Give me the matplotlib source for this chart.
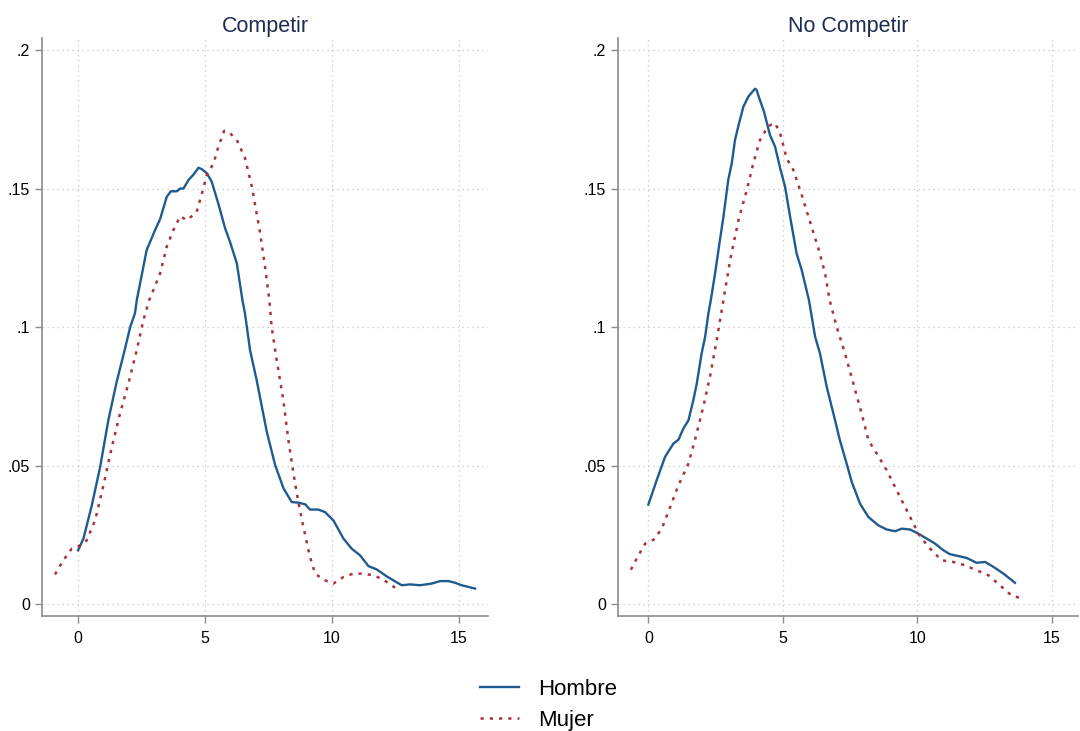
import matplotlib
matplotlib.use("Agg")
import matplotlib.pyplot as plt

plt.rcParams['font.family'] = ['Liberation Sans', 'DejaVu Sans']

# Competir - Hombre
comp_h_x = [0.0, 0.21, 0.54, 0.87, 1.19, 1.52, 1.85, 2.05, 2.24, 2.31, 2.70, 3.03, 3.23, 3.49,
            3.65, 3.88, 4.02, 4.15, 4.34, 4.54, 4.74, 4.87, 5.07, 5.26, 5.52, 5.79, 5.98, 6.25,
            6.47, 6.57, 6.77, 7.03, 7.43, 7.76, 8.09, 8.41, 8.67, 8.94, 9.13, 9.46, 9.72, 10.05,
            10.45, 10.77, 11.10, 11.43, 11.76, 12.15, 12.48, 12.74, 13.07, 13.47, 13.92, 14.25,
            14.58, 14.84, 15.10, 15.63]
comp_h_y = [0.0195, 0.0237, 0.0357, 0.0496, 0.0664, 0.0803, 0.0923, 0.100, 0.105, 0.1097, 0.1278,
            0.135, 0.139, 0.147, 0.149, 0.149, 0.150, 0.150, 0.153, 0.155, 0.1575, 0.157, 0.1555,
            0.1525, 0.1446, 0.1356, 0.1308, 0.123, 0.1097, 0.105, 0.0917, 0.0809, 0.0622, 0.0502,
            0.0418, 0.0369, 0.0367, 0.0361, 0.0342, 0.0342, 0.0333, 0.0303, 0.0237, 0.0201, 0.0177,
            0.0138, 0.0126, 0.0101, 0.0083, 0.0069, 0.0072, 0.0069, 0.0075, 0.0084, 0.0084, 0.0078,
            0.0069, 0.0057]

# Competir - Mujer
comp_m_x = [-0.91, -0.58, -0.25, 0.01, 0.34, 0.67, 1.0, 1.33, 1.65, 1.98, 2.31, 2.57, 2.80, 3.23,
            3.49, 3.75, 4.02, 4.28, 4.47, 4.67, 4.87, 5.07, 5.33, 5.52, 5.75, 5.98, 6.25, 6.57,
            6.84, 7.17, 7.36, 7.53, 7.62, 7.82, 8.08, 8.28, 8.48, 8.67, 8.87, 9.13, 9.33, 9.66,
            10.05, 10.45, 10.84, 11.17, 11.63, 12.02, 12.48]
comp_m_y = [0.0108, 0.0159, 0.0201, 0.0209, 0.0231, 0.0303, 0.0430, 0.0568, 0.0688, 0.0797, 0.0917,
            0.1025, 0.1097, 0.1194, 0.129, 0.135, 0.140, 0.1386, 0.140, 0.1416, 0.148, 0.155,
            0.159, 0.165, 0.1708, 0.170, 0.1675, 0.161, 0.1507, 0.1338, 0.1218, 0.1097, 0.1001,
            0.0881, 0.0736, 0.0592, 0.0472, 0.0369, 0.0279, 0.0171, 0.0111, 0.0089, 0.0075, 0.0099,
            0.0111, 0.0111, 0.0105, 0.0089, 0.0060]

# No Competir - Hombre
nocomp_h_x = [0.0, 0.31, 0.62, 0.93, 1.12, 1.30, 1.49, 1.67, 1.80, 1.98, 2.11, 2.23, 2.32, 2.48,
              2.66, 2.79, 2.97, 3.10, 3.22, 3.37, 3.53, 3.72, 3.84, 3.92, 3.97, 4.03, 4.09, 4.30,
              4.52, 4.71, 4.90, 5.08, 5.27, 5.51, 5.70, 5.97, 6.20, 6.38, 6.63, 6.88, 7.12, 7.37,
              7.56, 7.87, 8.18, 8.55, 8.86, 9.17, 9.42, 9.73, 10.04, 10.35, 10.66, 10.97, 11.21,
              11.59, 11.84, 12.20, 12.52, 12.83, 13.20, 13.63]
nocomp_h_y = [0.036, 0.0448, 0.0532, 0.058, 0.0594, 0.0634, 0.0664, 0.0736, 0.0797, 0.0905, 0.0965,
              0.1049, 0.1097, 0.1194, 0.1314, 0.1398, 0.1531, 0.1591, 0.1675, 0.1735, 0.1795,
              0.1832, 0.1846, 0.1855, 0.1860, 0.1855, 0.1835, 0.1777, 0.1693, 0.1651, 0.1573,
              0.1507, 0.1398, 0.1266, 0.1206, 0.1097, 0.0965, 0.0905, 0.0785, 0.0688, 0.0592,
              0.0508, 0.0442, 0.0363, 0.0315, 0.0285, 0.0270, 0.0264, 0.0273, 0.0270, 0.0255,
              0.0237, 0.0219, 0.0195, 0.0181, 0.0173, 0.0167, 0.0150, 0.0153, 0.0135, 0.0111,
              0.0078]

# No Competir - Mujer
nocomp_m_x = [-0.65, -0.37, -0.12, 0.19, 0.50, 0.81, 1.12, 1.49, 1.73, 2.04, 2.29, 2.54, 2.79,
              3.04, 3.35, 3.66, 3.90, 4.15, 4.46, 4.71, 4.90, 5.14, 5.39, 5.70, 6.01, 6.32, 6.57,
              6.74, 7.00, 7.31, 7.62, 7.93, 8.18, 8.49, 8.86, 9.29, 9.67, 10.04, 10.41, 10.90,
              11.34, 11.77, 12.20, 12.64, 13.07, 13.50, 13.94]
nocomp_m_y = [0.0125, 0.0177, 0.0219, 0.0233, 0.0273, 0.0351, 0.0430, 0.0508, 0.0592, 0.0712,
              0.0821, 0.0953, 0.1097, 0.1242, 0.1386, 0.1495, 0.1591, 0.1675, 0.1726, 0.1736,
              0.1699, 0.1609, 0.1567, 0.1477, 0.1380, 0.1284, 0.1194, 0.1097, 0.1001, 0.0905,
              0.0797, 0.0688, 0.0592, 0.0544, 0.0484, 0.0400, 0.0327, 0.0255, 0.0207, 0.0159,
              0.0153, 0.0141, 0.0123, 0.0105, 0.0069, 0.0032, 0.0020]

x_ticks = [0, 5, 10, 15]
y_ticks = [0, 0.05, 0.1, 0.15, 0.2]
y_labels = ['0', '.05', '.1', '.15', '.2']
titles = ['Competir', 'No Competir']

BLUE = '#1f5b8f'
RED = '#a8333b'
AXIS = '#8c8c8c'

fig = plt.figure(figsize=(10.8, 7.31), dpi=100)
ax1 = fig.add_axes([0.0389, 0.1573, 0.413, 0.7907])
ax2 = fig.add_axes([0.5722, 0.1573, 0.4259, 0.7907])

panels = [
    (ax1, comp_h_x, comp_h_y, comp_m_x, comp_m_y, (-1.42, 16.14)),
    (ax2, nocomp_h_x, nocomp_h_y, nocomp_m_x, nocomp_m_y, (-1.13, 15.97)),
]

for (ax, hx, hy, mx, my, xlim), title in zip(panels, titles):
    ax.plot(hx, hy, color=BLUE, lw=1.7, label='Hombre', zorder=3)
    ax.plot(mx, my, color=RED, lw=1.8, linestyle=(0, (1.3, 2.4)), label='Mujer', zorder=3)
    ax.set_xlim(*xlim)
    ax.set_ylim(-0.0042, 0.2043)
    ax.set_xticks(x_ticks)
    ax.set_yticks(y_ticks)
    ax.set_yticklabels(y_labels)
    ax.grid(True, color='#c4c4c4', linestyle=(0, (1, 3)), lw=0.9)
    ax.set_axisbelow(True)
    for s in ['top', 'right']:
        ax.spines[s].set_visible(False)
    for s in ['left', 'bottom']:
        ax.spines[s].set_color(AXIS)
        ax.spines[s].set_linewidth(1.2)
    ax.tick_params(colors=AXIS, labelcolor='black', labelsize=11.5, length=5, width=1)
    ax.tick_params(axis='x', pad=6)
    ax.set_title(title, fontsize=15.5, color='#1c2b4f', pad=4)

handles, labels = ax1.get_legend_handles_labels()
fig.legend(handles, labels, loc='center', bbox_to_anchor=(0.508, 0.036), frameon=False,
           fontsize=16, handlelength=1.75, handletextpad=0.85, labelspacing=0.45)

fig.savefig('out.png', dpi=100)
